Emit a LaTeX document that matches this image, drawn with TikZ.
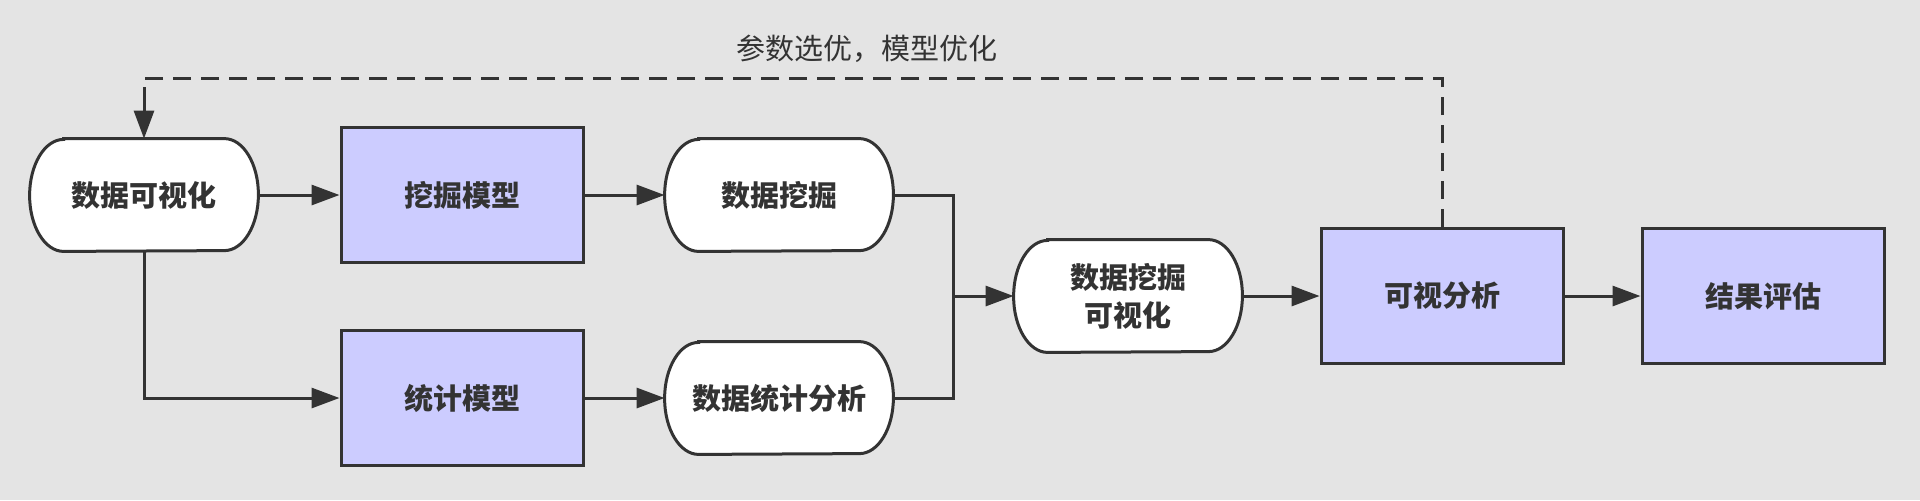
\documentclass[tikz,border=0pt]{standalone}
\usepackage{fontspec}
\newfontfamily\cjk{Noto Sans CJK SC}
\usetikzlibrary{arrows.meta,backgrounds}
\definecolor{bggray}{HTML}{E4E4E4}
\definecolor{boxblue}{HTML}{CCCCFF}
\definecolor{linegray}{HTML}{333333}

% outline of a pill node, drawn behind its text
\newcommand{\pillframe}[1]{%
  \draw[draw=linegray,line width=1.5pt,fill=white]
    ([xshift=17pt]#1.north west) -- ([xshift=-17pt]#1.north east)
    arc[start angle=90,end angle=-90,x radius=17pt,y radius=28pt]
    -- ([xshift=17pt]#1.south west)
    arc[start angle=270,end angle=90,x radius=17pt,y radius=28pt] -- cycle;}

\begin{document}
\begin{tikzpicture}[x=0.5pt,y=-0.5pt,
  box/.style={draw=linegray,line width=1.5pt,fill=boxblue,text=linegray,
    minimum width=121pt,minimum height=67.5pt,inner sep=0pt,
    font=\cjk\bfseries\fontsize{14.5}{19}\selectfont},
  pill/.style={text=linegray,minimum width=114pt,minimum height=56pt,
    inner sep=0pt,align=center,
    font=\cjk\bfseries\fontsize{14.5}{19}\selectfont},
  conn/.style={draw=linegray,line width=1.5pt},
  arr/.style={conn,-{Triangle[length=14pt,width=10pt]}},
  fback/.style={conn,dash pattern=on 9pt off 5pt}]
% NODES
\node[pill] (viz)   at (144,195)  {数据可视化};
\node[box]  (mineM) at (462,195)  {挖掘模型};
\node[pill] (mine)  at (779,195)  {数据挖掘};
\node[box]  (statM) at (462,398)  {统计模型};
\node[pill] (stat)  at (779,398)  {数据统计分析};
\node[pill] (minev) at (1128,296) {数据挖掘\\可视化};
\node[box]  (va)    at (1442,296) {可视分析};
\node[box]  (eval)  at (1763,296) {结果评估};

\begin{pgfonlayer}{background}
\fill[bggray] (0,0) rectangle (1920,500);
\pillframe{viz}
\pillframe{mine}
\pillframe{stat}
\pillframe{minev}
\end{pgfonlayer}

\coordinate (join) at (953,296);
\coordinate (fbk)  at (144,78);
% CONNECTIONS
\draw[arr] (viz.east) -- (mineM.west);
\draw[arr] (mineM.east) -- (mine.west);
\draw[arr] (viz.south) |- (statM.west);
\draw[arr] (statM.east) -- (stat.west);

\draw[conn] (mine.east) -| (join);
\draw[conn] (stat.east) -| (join);
\draw[arr] (join) -- (minev.west);

\draw[arr] (minev.east) -- (va.west);
\draw[arr] (va.east) -- (eval.west);

\draw[fback] (va.north) |- (fbk);
\draw[arr] ([yshift=-4.5pt]fbk) -- (viz.north);
% LABEL
\node[font=\cjk\fontsize{14.5}{17}\selectfont,text=linegray] (fbtxt) at (867,49) {参数选优，模型优化};
\end{tikzpicture}
\end{document}
